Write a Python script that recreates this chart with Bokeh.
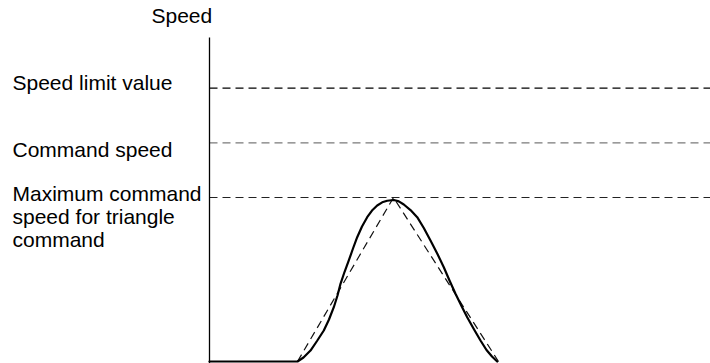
from bokeh.plotting import figure
from bokeh.models import Range1d, LinearAxis
from bokeh.core.properties import value
from bokeh.embed import file_html
from bokeh.resources import INLINE

# ---- data (time in arbitrary units, speed in arbitrary units) ----
level_names = ["Speed limit value", "Command speed", "Maximum command"]
level_values = [5.0, 4.0, 3.0]
level_colors = ["#000000", "#7a7a7a", "#222222"]
t_end = 50.1

# smooth (S-curve) speed profile
curve_t = [0.0, 8.8, 9.40, 10.10, 10.75, 11.43, 11.95, 12.43, 12.80, 13.10, 13.50,
           13.93, 14.35, 14.77, 15.25, 15.77, 16.25, 16.77, 17.27, 17.77, 18.43,
           18.93, 19.43, 20.10, 20.77, 21.43, 22.10, 22.77, 23.43, 24.00, 24.60,
           25.20, 25.77, 26.43, 27.10, 27.70, 28.25, 28.77]
curve_v = [0.0, 0.0, 0.073, 0.201, 0.375, 0.567, 0.768, 0.993, 1.207, 1.421, 1.637,
           1.848, 2.067, 2.274, 2.470, 2.640, 2.762, 2.854, 2.912, 2.941, 2.954,
           2.930, 2.872, 2.771, 2.640, 2.442, 2.213, 1.976, 1.725, 1.482, 1.238,
           1.015, 0.810, 0.595, 0.384, 0.210, 0.091, 0.0]

# triangle command (dashed)
tri_t = [8.8, 18.4, 28.9]
tri_v = [0.0, 3.0, 0.0]

# left-hand texts (baseline positions)
label_texts = ["Speed limit value", "Command speed", "Maximum command",
               "speed for triangle", "command"]
label_y = [5.112, 3.887, 3.082, 2.661, 2.240]
label_x = [-19.7, -19.7, -19.7, -19.7, -19.7]
axis_title = ["Speed"]
axis_title_x = [-5.8]
axis_title_y = [6.336]
axis_top = 5.927

p = figure(width=710, height=363, output_backend="svg", toolbar_location=None,
           x_axis_location=None, y_axis_location=None, title=None,
           x_range=Range1d(-20.9, t_end), y_range=Range1d(-0.0366, 6.604),
           min_border_left=0, min_border_right=0, min_border_top=0,
           min_border_bottom=0)
p.outline_line_color = None
p.xgrid.visible = False
p.ygrid.visible = False
p.background_fill_color = "white"
p.border_fill_color = "white"

ax = LinearAxis(fixed_location=0, bounds=(-0.04, axis_top),
                axis_line_color="black", axis_line_width=1.3,
                major_tick_line_color=None, minor_tick_line_color=None,
                major_tick_in=0, major_tick_out=0, minor_tick_in=0, minor_tick_out=0,
                major_label_standoff=0, major_label_text_color=None,
                major_label_text_font_size="0px")
p.add_layout(ax, "left")

p.segment(x0=[0] * len(level_values), y0=level_values,
          x1=[t_end] * len(level_values), y1=level_values,
          line_color=level_colors, line_width=1.2, line_dash="8 5")

p.line(tri_t, tri_v, line_color="#111111", line_width=1.2, line_dash="8 5")
p.line(curve_t, curve_v, line_color="black", line_width=2.2,
       line_join="round", line_cap="round")

font = value("Liberation Sans")
p.text(x=label_x, y=label_y, text=label_texts, text_font=font,
       text_font_size=value("21px"), text_color="black",
       text_baseline="alphabetic", text_align="left")
p.text(x=axis_title_x, y=axis_title_y, text=axis_title, text_font=font,
       text_font_size=value("21px"), text_color="black",
       text_baseline="alphabetic", text_align="left")

open("out.html", "w").write(file_html(p, INLINE))
